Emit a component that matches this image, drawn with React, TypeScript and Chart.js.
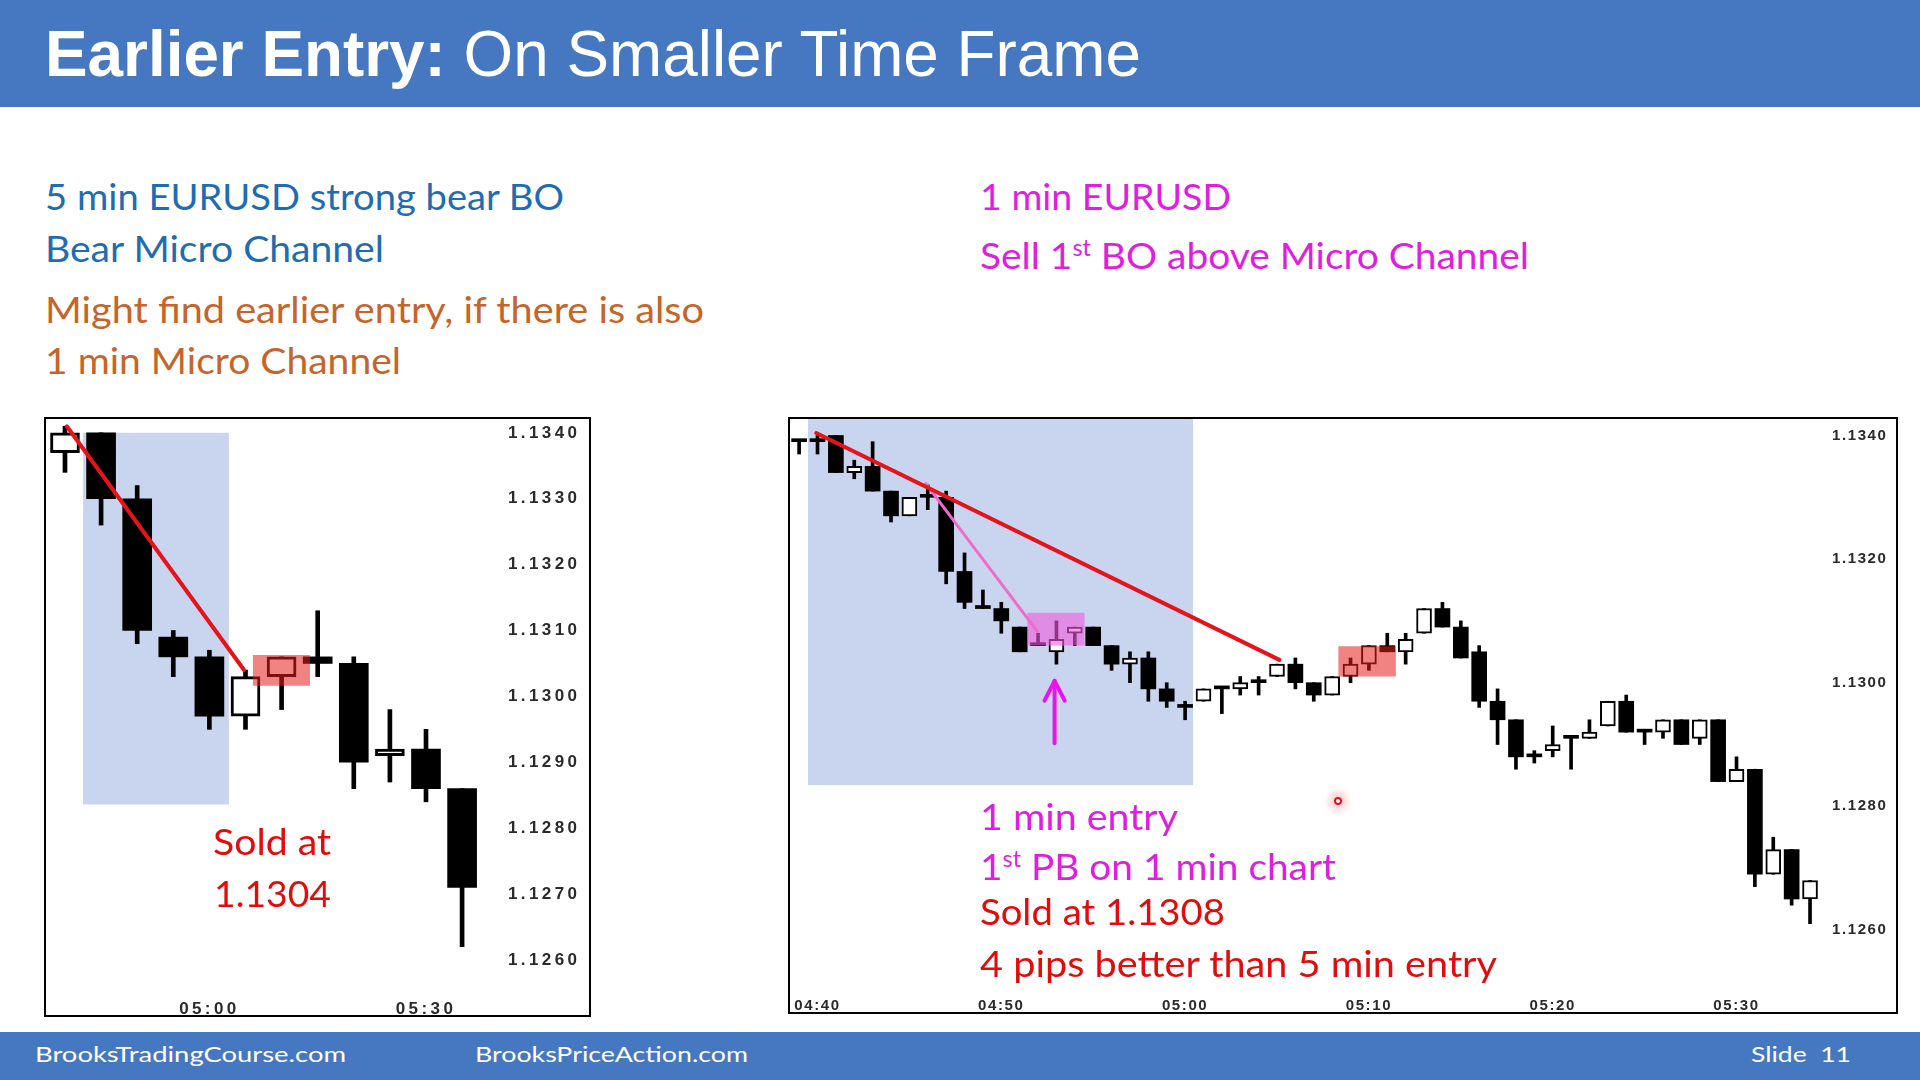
import React, { useEffect, useLayoutEffect, useRef, useState } from 'react';
import { Chart, registerables } from 'chart.js';

Chart.register(...registerables);

// ---------------- Left chart: 5 min EURUSD ----------------
const L_BAR = [0, 1, 2, 3, 4, 5, 6, 7, 8, 9, 10, 11];
const L_OPEN = [1.1337, 1.1340, 1.1330, 1.1309, 1.1306, 1.1297, 1.1303, 1.1306, 1.1305, 1.1291, 1.1292, 1.1286];
const L_HIGH = [1.1341, 1.1340, 1.1332, 1.1310, 1.1307, 1.1304, 1.1306, 1.1313, 1.1306, 1.1298, 1.1295, 1.1286];
const L_LOW = [1.1334, 1.1326, 1.1308, 1.1303, 1.1295, 1.1295, 1.1298, 1.1303, 1.1286, 1.1287, 1.1284, 1.1262];
const L_CLOSE = [1.1340, 1.1330, 1.1310, 1.1306, 1.1297, 1.1303, 1.1306, 1.1305, 1.1290, 1.1292, 1.1286, 1.1271];
const L_TIME_TICKS = [4, 10];
const L_TIME_LABELS = ['05:00', '05:30'];
const L_PRICE_TICKS = [1.1340, 1.1330, 1.1320, 1.1310, 1.1300, 1.1290, 1.1280, 1.1270, 1.1260];
const L_TREND = [{ x: 0.05, y: 1.1341 }, { x: 4.96, y: 1.1304 }];
const L_BLUE_X = [0.5, 4.54];
const L_BLUE_Y = [1.12836, 1.1340];
const L_RED_X = [5.2, 6.79];
const L_RED_Y = [1.13016, 1.13063];

// ---------------- Right chart: 1 min EURUSD ----------------
const R_BAR = [-1, 0, 1, 2, 3, 4, 5, 6, 7, 8, 9, 10, 11, 12, 13, 14, 15, 16, 17, 18, 19, 20, 21, 22, 23, 24, 25, 26, 27,
  28, 29, 30, 31, 32, 33, 34, 35, 36, 37, 38, 39, 40, 41, 42, 43, 44, 45, 46, 47, 48, 49, 50, 51, 52, 53, 54];
const R_OPEN = [1.1339, 1.1339, 1.1340, 1.1334, 1.1335, 1.1331, 1.1327, 1.1330, 1.1330, 1.1318, 1.1312, 1.1312, 1.1309, 1.1306,
  1.1305, 1.1308, 1.1309, 1.1306, 1.1303, 1.1304, 1.1299, 1.1296, 1.1297, 1.1299, 1.1299, 1.1300, 1.1301, 1.1303, 1.1300,
  1.1298, 1.1301, 1.1303, 1.1306, 1.1305, 1.1308, 1.1312, 1.1309, 1.1305, 1.1297, 1.1294, 1.1288, 1.1289, 1.1291, 1.1291,
  1.1293, 1.1297, 1.1292, 1.1292, 1.1294, 1.1291, 1.1294, 1.1284, 1.1286, 1.1269, 1.1273, 1.1265];
const R_HIGH = [1.1339, 1.1340, 1.1340, 1.1336, 1.1339, 1.1331, 1.1330, 1.1332, 1.1331, 1.1321, 1.1315, 1.1313, 1.1309, 1.1308,
  1.1310, 1.1309, 1.1309, 1.1306, 1.1305, 1.1305, 1.1300, 1.1297, 1.1299, 1.1299, 1.1301, 1.1301, 1.1303, 1.1304, 1.1300,
  1.1301, 1.1304, 1.1306, 1.1308, 1.1308, 1.1312, 1.1313, 1.1310, 1.1306, 1.1299, 1.1294, 1.1289, 1.1293, 1.1291, 1.1294,
  1.1297, 1.1298, 1.1292, 1.1294, 1.1294, 1.1294, 1.1294, 1.1288, 1.1286, 1.1275, 1.1273, 1.1268];
const R_LOW = [1.1337, 1.1337, 1.1334, 1.1333, 1.1331, 1.1326, 1.1327, 1.1328, 1.1316, 1.1312, 1.1312, 1.1308, 1.1305, 1.1306,
  1.1303, 1.1306, 1.1306, 1.1302, 1.1300, 1.1297, 1.1296, 1.1294, 1.1297, 1.1295, 1.1298, 1.1298, 1.1301, 1.1299, 1.1297,
  1.1298, 1.1300, 1.1302, 1.1305, 1.1303, 1.1308, 1.1309, 1.1304, 1.1296, 1.1290, 1.1286, 1.1287, 1.1288, 1.1286, 1.1291,
  1.1293, 1.1292, 1.1290, 1.1291, 1.1290, 1.1290, 1.1284, 1.1284, 1.1267, 1.1269, 1.1264, 1.1261];
const R_CLOSE = [1.1339, 1.1339, 1.1334, 1.1335, 1.1331, 1.1327, 1.1330, 1.1330, 1.1318, 1.1313, 1.1312, 1.1310, 1.1305, 1.1306,
  1.1307, 1.1309, 1.1306, 1.1303, 1.1304, 1.1299, 1.1297, 1.1296, 1.1299, 1.1299, 1.1300, 1.1300, 1.1303, 1.1300, 1.1298,
  1.1301, 1.1303, 1.1306, 1.1305, 1.1307, 1.1312, 1.1309, 1.1304, 1.1297, 1.1294, 1.1288, 1.1288, 1.1290, 1.1291, 1.1292,
  1.1297, 1.1292, 1.1292, 1.1294, 1.1290, 1.1294, 1.1284, 1.1286, 1.1269, 1.1273, 1.1265, 1.1268];
const R_TIME_TICKS = [0, 10, 20, 30, 40, 50];
const R_TIME_LABELS = ['04:40', '04:50', '05:00', '05:10', '05:20', '05:30'];
const R_PRICE_TICKS = [1.1340, 1.1320, 1.1300, 1.1280, 1.1260];
const R_TREND = [{ x: -0.07, y: 1.13404 }, { x: 25.13, y: 1.13037 }];
const R_MICRO = [{ x: 5.89, y: 1.13322 }, { x: 11.96, y: 1.13083 }];
const R_ARROW_SHAFT = [{ x: 12.9, y: 1.12902 }, { x: 12.9, y: 1.13003 }];
const R_ARROW_HEAD = [{ x: 12.35, y: 1.12971 }, { x: 12.9, y: 1.13003 }, { x: 13.45, y: 1.12971 }];
const R_BLUE_X = [-0.52, 20.43];
const R_BLUE_Y = [1.12834, 1.13427];
const R_PINK_X = [11.41, 14.54];
const R_PINK_Y = [1.1306, 1.13113];
const R_RED_X = [28.33, 31.47];
const R_RED_Y = [1.1301, 1.13059];

const spacingPlugin = {
  id: 'spacing',
  beforeDraw(chart: any, _args: any, opts: any) {
    (chart.ctx as any).letterSpacing = (opts.px || 0) + 'px';
  },
};

function boxDataset(xr: number[], yr: number[], color: string, order: number) {
  return {
    type: 'line',
    data: [{ x: xr[0], y: yr[1] }, { x: xr[1], y: yr[1] }],
    fill: { value: yr[0] },
    backgroundColor: color,
    borderColor: 'rgba(0,0,0,0)',
    borderWidth: 0,
    pointRadius: 0,
    order,
  };
}

function lineDataset(pts: any[], color: string, width: number, order: number) {
  return {
    type: 'line',
    data: pts,
    borderColor: color,
    borderWidth: width,
    pointRadius: 0,
    fill: false,
    order,
    borderCapStyle: 'round',
    borderJoinStyle: 'round',
  };
}

function buildConfig(p: any) {
  const up = (i: number) => p.close[i] > p.open[i];
  const wicks = p.xs.map((x: number, i: number) => ({ x, y: [p.low[i], p.high[i]] }));
  const bodies = p.xs.map((x: number, i: number) => ({ x, y: [p.open[i], p.close[i]] }));
  const tickFont = { family: '"Liberation Sans", Arial, sans-serif', size: p.fontSize, weight: p.fontWeight };
  return {
    type: 'bar',
    data: {
      datasets: [
        ...p.under,
        {
          type: 'bar',
          data: wicks,
          backgroundColor: '#000',
          barThickness: p.wickW,
          grouped: false,
          minBarLength: 1,
          order: 50,
        },
        {
          type: 'bar',
          data: bodies,
          backgroundColor: (c: any) => (up(c.dataIndex) ? '#ffffff' : '#000000'),
          borderColor: '#000',
          borderWidth: (c: any) => (up(c.dataIndex) ? p.border : 0),
          borderSkipped: false,
          barThickness: p.bodyW,
          grouped: false,
          minBarLength: 3,
          order: 40,
        },
        ...p.over,
      ],
    },
    options: {
      responsive: false,
      animation: false,
      devicePixelRatio: 1,
      events: [],
      layout: { padding: 0 },
      plugins: { legend: { display: false }, tooltip: { enabled: false }, spacing: { px: p.spacing } },
      scales: {
        x: {
          type: 'linear',
          min: p.xMin,
          max: p.xMax,
          offset: false,
          grid: { display: false, drawTicks: false },
          border: { display: false },
          ticks: {
            font: tickFont,
            color: '#2a2a2a',
            padding: p.xPad,
            maxRotation: 0,
            autoSkip: false,
            callback: (v: number) => {
              const k = p.xTicks.indexOf(v);
              return k >= 0 ? p.xLabels[k] : '';
            },
          },
          afterBuildTicks: (s: any) => {
            s.ticks = p.xTicks.map((v: number) => ({ value: v }));
          },
          afterFit: (s: any) => {
            s.height = p.xAxisH;
            s.paddingLeft = 0;
            s.paddingRight = 0;
            s.paddingTop = 0;
            s.paddingBottom = 0;
          },
        },
        y: {
          type: 'linear',
          position: 'right',
          min: p.yMin,
          max: p.yMax,
          grid: { display: false, drawTicks: false },
          border: { display: false },
          ticks: {
            font: tickFont,
            color: '#2a2a2a',
            padding: 8,
            autoSkip: false,
            callback: (v: number) => Number(v).toFixed(4),
          },
          afterBuildTicks: (s: any) => {
            s.ticks = p.yTicks.map((v: number) => ({ value: v }));
          },
          afterFit: (s: any) => {
            s.width = p.yAxisW;
            s.paddingLeft = 0;
            s.paddingRight = 0;
            s.paddingTop = 0;
            s.paddingBottom = 0;
          },
        },
      },
    },
    plugins: [spacingPlugin],
  };
}

function ChartBox({ left, top, w, h, config }: any) {
  const ref = useRef<HTMLCanvasElement>(null);
  useEffect(() => {
    const chart = new Chart(ref.current as HTMLCanvasElement, config);
    return () => chart.destroy();
  }, []);
  return (
    <div
      style={{
        position: 'absolute',
        left: left - 2,
        top: top - 2,
        width: w,
        height: h,
        border: '2px solid #000',
        background: '#fff',
      }}
    >
      <canvas ref={ref} width={w} height={h} style={{ display: 'block', width: w, height: h }} />
    </div>
  );
}

const LATO = 'Lato, "Noto Sans", sans-serif';
const ARIAL = '"Liberation Sans", Arial, sans-serif';

function FitText({ x, cy, width, size, family = LATO, capC = 0.529, color, weight = 400, children }: any) {
  const ref = useRef<HTMLDivElement>(null);
  const [sx, setSx] = useState(1);
  useLayoutEffect(() => {
    const el = ref.current;
    if (!el) return;
    const w = el.getBoundingClientRect().width;
    if (w > 0) setSx(width / w);
  }, [width]);
  return (
    <div
      ref={ref}
      style={{
        position: 'absolute',
        left: x,
        top: cy - size * capC,
        fontFamily: family,
        fontSize: size,
        fontWeight: weight,
        lineHeight: 1,
        color,
        whiteSpace: 'nowrap',
        transformOrigin: '0 0',
        transform: `scaleX(${sx})`,
      }}
    >
      {children}
    </div>
  );
}

const Sup = ({ children }: any) => (
  <span style={{ fontSize: '0.6em', position: 'relative', top: '-0.62em' }}>{children}</span>
);

const BLUE_TXT = '#1f6cb0';
const BROWN_TXT = '#c5652b';
const MAGENTA = '#e01ee0';
const RED_TXT = '#e00d0d';
const BAR_BLUE = '#4678c2';

export default function App() {
  const leftConfig = buildConfig({
    xs: L_BAR, open: L_OPEN, high: L_HIGH, low: L_LOW, close: L_CLOSE,
    xMin: -0.526, xMax: 12.05, yMin: 1.125453, yMax: 1.13421,
    xTicks: L_TIME_TICKS, xLabels: L_TIME_LABELS, yTicks: L_PRICE_TICKS,
    bodyW: 29, wickW: 4, border: 3,
    yAxisW: 89, xAxisH: 19, fontSize: 17, fontWeight: 'bold', spacing: 3.4, xPad: 3,
    under: [boxDataset(L_BLUE_X, L_BLUE_Y, '#c9d5ef', 100)],
    over: [
      boxDataset(L_RED_X, L_RED_Y, 'rgba(232,30,30,0.55)', 10),
      lineDataset(L_TREND, '#e5141b', 4, 5),
    ],
  });

  const rightConfig = buildConfig({
    xs: R_BAR, open: R_OPEN, high: R_HIGH, low: R_LOW, close: R_CLOSE,
    xMin: -1.496, xMax: 54.76, yMin: 1.124979, yMax: 1.134267,
    xTicks: R_TIME_TICKS, xLabels: R_TIME_LABELS, yTicks: R_PRICE_TICKS,
    bodyW: 15, wickW: 3, border: 2,
    yAxisW: 72, xAxisH: 19, fontSize: 15, fontWeight: 'bold', spacing: 1.6, xPad: 4,
    under: [boxDataset(R_BLUE_X, R_BLUE_Y, '#c9d5ef', 100)],
    over: [
      boxDataset(R_PINK_X, R_PINK_Y, 'rgba(240,90,220,0.6)', 10),
      boxDataset(R_RED_X, R_RED_Y, 'rgba(232,30,30,0.55)', 10),
      lineDataset(R_MICRO, '#f06cc8', 3, 6),
      lineDataset(R_TREND, '#e5141b', 4, 5),
      lineDataset(R_ARROW_SHAFT, '#ee11ee', 4, 4),
      lineDataset(R_ARROW_HEAD, '#ee11ee', 4, 4),
    ],
  });

  return (
    <div
      style={{
        position: 'absolute',
        left: 0,
        top: 0,
        width: 1920,
        height: 1080,
        background: '#fff',
        overflow: 'hidden',
      }}
    >
      {/* Title bar */}
      <div style={{ position: 'absolute', left: 0, top: 0, width: 1920, height: 107, background: BAR_BLUE }} />
      <FitText x={45} cy={53} width={1096} size={64} family={ARIAL} capC={0.4885} color="#fff">
        <span style={{ fontWeight: 700 }}>Earlier Entry:</span>
        <span> On Smaller Time Frame</span>
      </FitText>

      {/* Left text */}
      <FitText x={45} cy={197} width={519} size={37} color={BLUE_TXT}>5 min EURUSD strong bear BO</FitText>
      <FitText x={45} cy={249} width={339} size={37} color={BLUE_TXT}>Bear Micro Channel</FitText>
      <FitText x={45} cy={310} width={659} size={37} color={BROWN_TXT}>Might find earlier entry, if there is also</FitText>
      <FitText x={45} cy={361} width={356} size={37} color={BROWN_TXT}>1 min Micro Channel</FitText>

      {/* Right text */}
      <FitText x={980} cy={197} width={251} size={37} color={MAGENTA}>1 min EURUSD</FitText>
      <FitText x={980} cy={256} width={549} size={37} color={MAGENTA}>
        Sell 1<Sup>st</Sup> BO above Micro Channel
      </FitText>

      {/* Charts */}
      <ChartBox left={46} top={419} w={543} h={596} config={leftConfig} />
      <ChartBox left={790} top={419} w={1106} h={593} config={rightConfig} />

      {/* Annotations on charts */}
      <FitText x={213} cy={842} width={118} size={37} color={RED_TXT}>Sold at</FitText>
      <FitText x={214} cy={894} width={117} size={37} color={RED_TXT}>1.1304</FitText>

      <FitText x={980} cy={817} width={198} size={37} color={MAGENTA}>1 min entry</FitText>
      <FitText x={980} cy={867} width={356} size={37} color={MAGENTA}>
        1<Sup>st</Sup> PB on 1 min chart
      </FitText>
      <FitText x={980} cy={912} width={245} size={37} color={RED_TXT}>Sold at 1.1308</FitText>
      <FitText x={980} cy={964} width={517} size={37} color={RED_TXT}>4 pips better than 5 min entry</FitText>

      {/* pointer dot */}
      <div
        style={{
          position: 'absolute',
          left: 1334,
          top: 797,
          width: 8,
          height: 8,
          borderRadius: '50%',
          border: '2.5px solid #e0101a',
          boxSizing: 'border-box',
          boxShadow: '0 0 7px 5px rgba(255,110,120,0.35)',
        }}
      />

      {/* Footer */}
      <div style={{ position: 'absolute', left: 0, top: 1032, width: 1920, height: 48, background: BAR_BLUE }} />
      <FitText x={35} cy={1055} width={311} size={22} color="#fff">BrooksTradingCourse.com</FitText>
      <FitText x={475} cy={1055} width={273} size={22} color="#fff">BrooksPriceAction.com</FitText>
      <FitText x={1751} cy={1055} width={100} size={22} color="#fff">Slide&nbsp;&nbsp;11</FitText>
    </div>
  );
}
